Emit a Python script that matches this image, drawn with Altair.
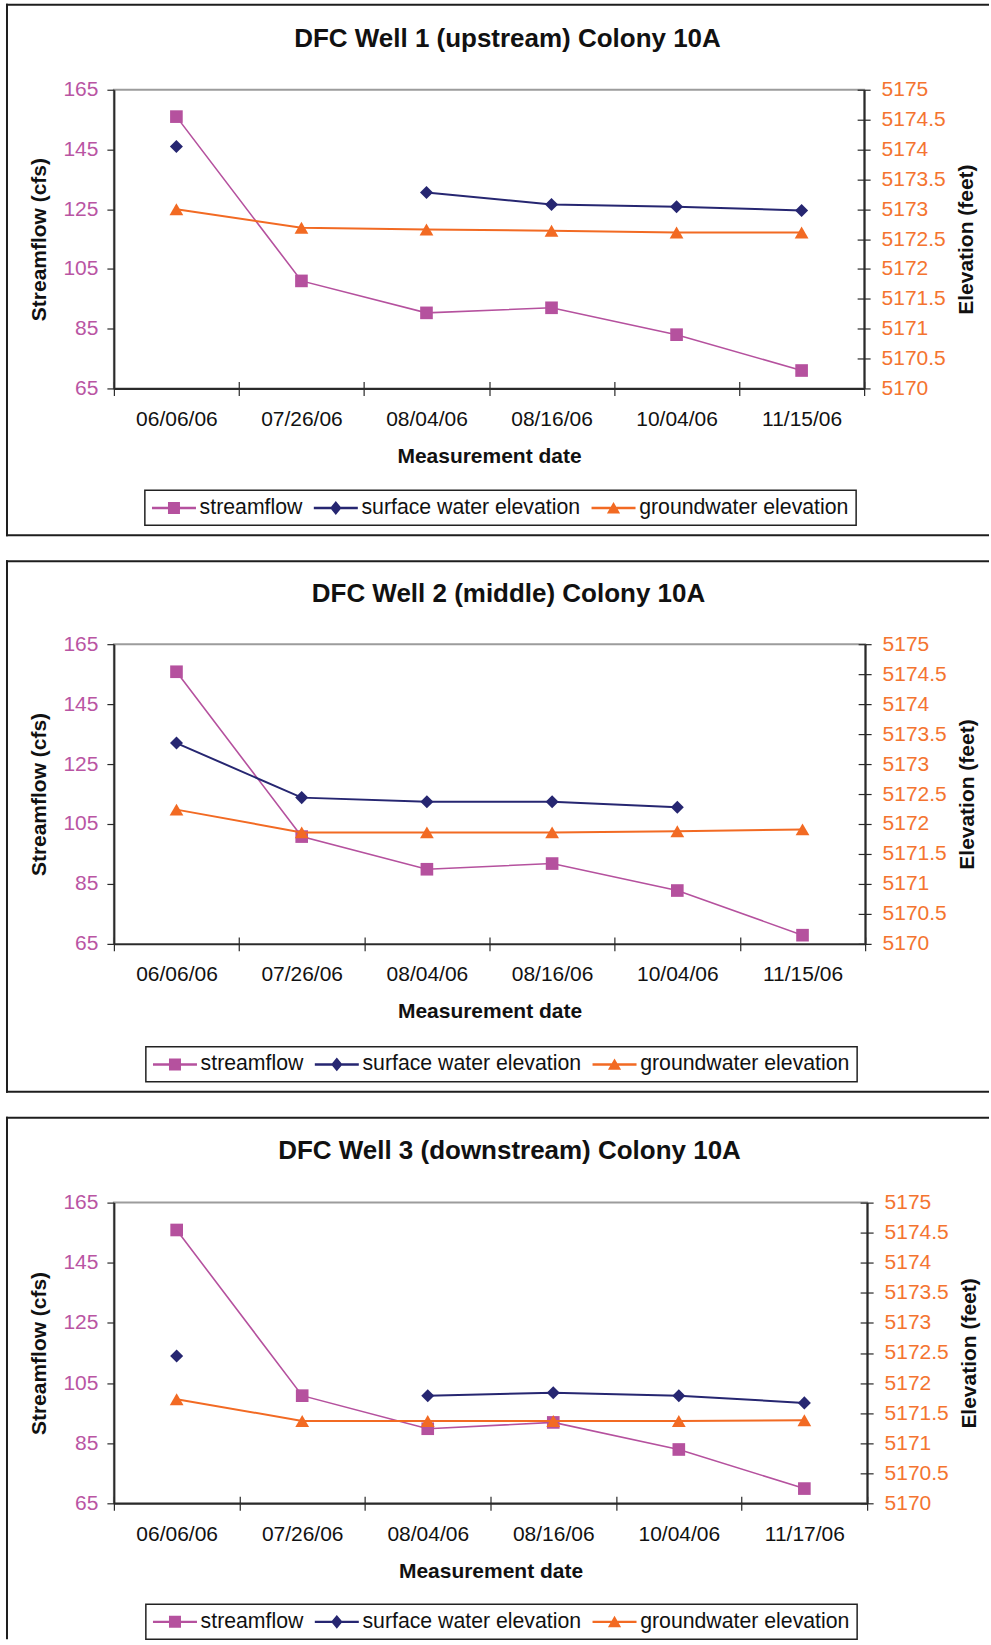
import altair as alt
import pandas as pd

FONT = "Liberation Sans"
MAGENTA = "#B5519E"
NAVY = "#262671"
ORANGE = "#F26A23"
MAGENTA_TXT = "#B955A3"
ORANGE_TXT = "#F47430"
INK = "#111111"
AXIS_INK = "#2a2a2a"
FRAME_INK = "#1e1e1e"

SERIES = ["streamflow", "surface water elevation", "groundwater elevation"]

TITLE_1 = "DFC Well 1 (upstream) Colony 10A"
TITLE_2 = "DFC Well 2 (middle) Colony 10A"
TITLE_3 = "DFC Well 3 (downstream) Colony 10A"

DATES_1 = ["06/06/06", "07/26/06", "08/04/06", "08/16/06", "10/04/06", "11/15/06"]
DATES_2 = ["06/06/06", "07/26/06", "08/04/06", "08/16/06", "10/04/06", "11/15/06"]
DATES_3 = ["06/06/06", "07/26/06", "08/04/06", "08/16/06", "10/04/06", "11/17/06"]

# streamflow in cfs, elevations in feet (None = not measured)
FLOW_1 = [156.0, 101.0, 90.3, 92.0, 83.0, 71.0]
SURFACE_1 = [5174.05, None, 5173.28, 5173.08, 5173.04, 5172.98]
GROUND_1 = [5173.0, 5172.69, 5172.66, 5172.64, 5172.61, 5172.61]

FLOW_2 = [155.8, 100.8, 89.9, 91.8, 82.8, 67.9]
SURFACE_2 = [5173.35, 5172.44, 5172.37, 5172.37, 5172.28, None]
GROUND_2 = [5172.24, 5171.86, 5171.86, 5171.86, 5171.88, 5171.91]

FLOW_3 = [155.9, 100.8, 89.8, 91.9, 82.9, 69.9]
SURFACE_3 = [5172.45, None, 5171.79, 5171.84, 5171.79, 5171.67]
GROUND_3 = [5171.73, 5171.37, 5171.37, 5171.37, 5171.37, 5171.38]

FLOW_TICKS = [65, 85, 105, 125, 145, 165]
ELEV_TICKS = [5170, 5170.5, 5171, 5171.5, 5172, 5172.5, 5173, 5173.5, 5174, 5174.5, 5175]

# legend keys: a short line with the series marker on top (unit-square path coords)
KEY_LINE = "M-3.67,-0.2H3.67V0.2H-3.67Z"
SQUARE_KEY = KEY_LINE + " M-1,-1H1V1H-1Z"
DIAMOND_KEY = KEY_LINE + " M0,-1.15L0.95,0L0,1.15L-0.95,0Z"
TRIANGLE_KEY = KEY_LINE + " M0,-1L1.1,0.9L-1.1,0.9Z"


def panel(title, dates, flow, surface, ground, width, height,
          frame_top, frame_bottom, left_end, title_xy, legend_xy):
    df = pd.DataFrame({"date": dates, "streamflow": flow,
                       "surface": surface, "ground": ground})
    base = alt.Chart(df)

    xscale = alt.Scale(type="band", domain=dates, paddingInner=0, paddingOuter=0)
    flow_scale = alt.Scale(domain=[65, 165], nice=False, zero=False)
    elev_scale = alt.Scale(domain=[5170, 5175], nice=False, zero=False)

    x_main = alt.Axis(orient="bottom", labelAngle=0, labelFontSize=21, labelColor=INK,
                      labelPadding=13, tickSize=7, tickBand="extent", tickColor=AXIS_INK,
                      tickWidth=1.2, domainColor=AXIS_INK, domainWidth=2, grid=False,
                      title="Measurement date", titleFontSize=21, titleFontWeight="bold",
                      titleColor=INK, titleY=57)
    x_inner = alt.Axis(orient="bottom", offset=-7, domain=False, labels=False, title=None,
                       tickSize=7, tickBand="extent", tickColor=AXIS_INK, tickWidth=1.2,
                       grid=False)

    y_flow = alt.Axis(orient="left", values=FLOW_TICKS, format="d", labelFontSize=21,
                      labelColor=MAGENTA_TXT, labelPadding=9, tickSize=7, tickColor=AXIS_INK,
                      tickWidth=1.2, domainColor=AXIS_INK, domainWidth=2, grid=False,
                      title="Streamflow (cfs)", titleFontSize=21, titleFontWeight="bold",
                      titleColor=INK, titleAngle=270, titleX=-74, titleY=height / 2,
                      titleBaseline="middle", titleAlign="center")
    y_elev = alt.Axis(orient="right", values=ELEV_TICKS, format=".1~f", labelFontSize=21,
                      labelColor=ORANGE_TXT, labelPadding=11, tickSize=6, tickColor=AXIS_INK,
                      tickWidth=1.2, domainColor=AXIS_INK, domainWidth=2, grid=False,
                      title="Elevation (feet)", titleFontSize=21, titleFontWeight="bold",
                      titleColor=INK, titleAngle=270, titleX=102, titleY=height / 2,
                      titleBaseline="middle", titleAlign="center")
    y_elev_inner = alt.Axis(orient="right", offset=-7, values=ELEV_TICKS, domain=False,
                            labels=False, title=None, tickSize=7, tickColor=AXIS_INK,
                            tickWidth=1.2, grid=False)

    flow_layer = base.mark_line(
        color=MAGENTA, strokeWidth=1.6,
        point=alt.OverlayMarkDef(shape="square", size=160, filled=True,
                                 color=MAGENTA, opacity=1),
    ).encode(
        x=alt.X("date:N", scale=xscale, axis=x_main),
        y=alt.Y("streamflow:Q", scale=flow_scale, axis=y_flow),
    )
    surface_layer = base.mark_line(
        color=NAVY, strokeWidth=2,
        point=alt.OverlayMarkDef(shape="diamond", size=170, filled=True,
                                 color=NAVY, opacity=1),
    ).encode(
        x=alt.X("date:N", scale=xscale, axis=x_inner),
        y=alt.Y("surface:Q", scale=elev_scale, axis=y_elev),
    )
    ground_layer = base.mark_line(
        color=ORANGE, strokeWidth=2,
        point=alt.OverlayMarkDef(shape="triangle-up", size=190, filled=True,
                                 color=ORANGE, opacity=1),
    ).encode(
        x=alt.X("date:N", scale=xscale, axis=None),
        y=alt.Y("ground:Q", scale=elev_scale, axis=y_elev_inner),
    )

    legend = alt.Legend(orient="none", legendX=legend_xy[0], legendY=legend_xy[1],
                        direction="horizontal", title=None)
    key_layer = alt.Chart(pd.DataFrame({"series": SERIES})).mark_point(
        filled=True, opacity=0, size=144
    ).encode(
        color=alt.Color("series:N", scale=alt.Scale(domain=SERIES, range=[MAGENTA, NAVY, ORANGE]),
                        legend=legend),
        shape=alt.Shape("series:N", scale=alt.Scale(domain=SERIES,
                                                     range=[SQUARE_KEY, DIAMOND_KEY, TRIANGLE_KEY]),
                        legend=legend),
    )

    frame = alt.Chart(pd.DataFrame({"title": [title]}))
    layers = [
        frame.mark_rule(color=FRAME_INK, strokeWidth=2, strokeCap="square").encode(
            x=alt.value(-107), x2=alt.value(875), y=alt.value(frame_top)),
        frame.mark_rule(color=FRAME_INK, strokeWidth=2, strokeCap="square").encode(
            x=alt.value(-107), y=alt.value(frame_top), y2=alt.value(left_end)),
    ]
    if frame_bottom is not None:
        layers.append(frame.mark_rule(color=FRAME_INK, strokeWidth=2, strokeCap="square").encode(
            x=alt.value(-107), x2=alt.value(875), y=alt.value(frame_bottom)))
    layers.append(frame.mark_text(fontSize=26, fontWeight="bold", color=INK, align="center",
                                  baseline="middle").encode(
        x=alt.value(title_xy[0]), y=alt.value(title_xy[1]), text="title:N"))
    layers += [flow_layer, surface_layer, ground_layer, key_layer]

    return (
        alt.layer(*layers)
        .resolve_scale(y="independent")
        .resolve_axis(x="independent", y="independent")
        .properties(width=width, height=height)
    )


p1 = panel(TITLE_1, DATES_1, FLOW_1, SURFACE_1, GROUND_1, 751, 299,
           -85, 446, 446, (394, -51), (31, 401))
p2 = panel(TITLE_2, DATES_2, FLOW_2, SURFACE_2, GROUND_2, 752, 300,
           -83, 448, 448, (395, -50), (32, 403))
p3 = panel(TITLE_3, DATES_3, FLOW_3, SURFACE_3, GROUND_3, 754, 301,
           -85, None, 436, (396, -52), (32, 402))

chart = (
    alt.vconcat(p1, p2, p3, spacing=20)
    .resolve_scale(color="independent", shape="independent")
    .resolve_legend(color="independent", shape="independent")
    .properties(padding={"left": 4, "top": 1, "right": 0, "bottom": 0})
    .configure(font=FONT)
    .configure_view(stroke="#9c9c9c", strokeWidth=2)
    .configure_legend(labelFontSize=21.3, labelColor=INK, labelLimit=400, strokeColor="#222222",
                      strokeWidth=1.5, padding=7, columnPadding=11, symbolOffset=11.5,
                      labelOffset=15, symbolStrokeWidth=0, symbolOpacity=1, symbolSize=144)
)

chart.save("out.html", embed_options={"renderer": "svg", "actions": False})
